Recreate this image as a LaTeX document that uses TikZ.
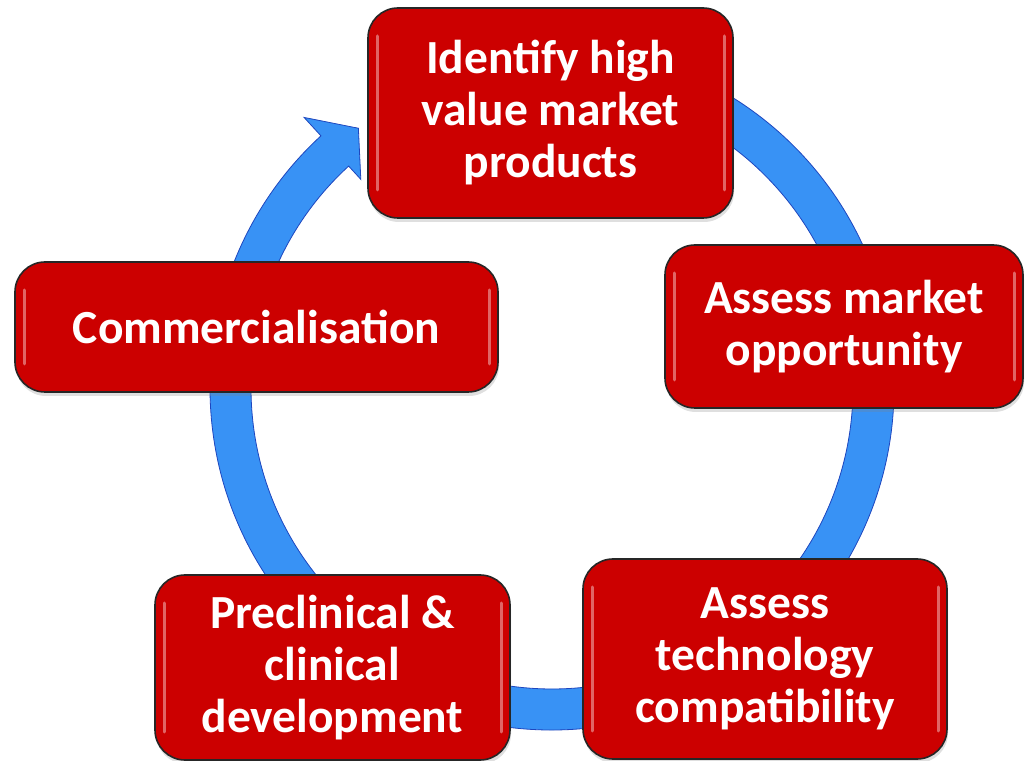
\documentclass[tikz,border=0pt]{standalone}
\usepackage{fontspec}
\setmainfont{Carlito}
\usetikzlibrary{shadows}
\definecolor{boxred}{RGB}{204,0,0}
\definecolor{ringblue}{RGB}{56,146,245}
\definecolor{ringedge}{RGB}{30,70,190}

\begin{document}
\begin{tikzpicture}[x=1pt, y=1pt,
	stage/.style={draw=black!85, line width=1.6pt, fill=boxred, rounded corners=30pt,
		text=white, font=\fontsize{47.5}{52}\selectfont\bfseries, align=center, inner sep=0pt,
		drop shadow={opacity=0.25, shadow xshift=1pt, shadow yshift=-4pt},
		path picture={\draw[white, opacity=0.4, line width=3pt, line cap=round]
			([xshift=9pt,yshift=-28pt]path picture bounding box.north west) -- ([xshift=9pt,yshift=28pt]path picture bounding box.south west)
			([xshift=-9pt,yshift=-28pt]path picture bounding box.north east) -- ([xshift=-9pt,yshift=28pt]path picture bounding box.south east);}},
	ring/.style={fill=ringblue, draw=ringedge, line width=0.8pt}]
	\useasboundingbox (0,0) rectangle (1029,761);
	\coordinate (hub) at (552,373);
	% the cycle arrow, its tail hidden under the first box
	\filldraw[ring, shift={(hub)}] (95:342) arc[start angle=95, end angle=-227.5, radius=342]
		-- (132.5:367) -- (126.7:324) -- (132.5:283) -- (132.5:301)
		arc[start angle=-227.5, end angle=95, radius=301] -- cycle;
	\node[stage, minimum width=365pt, minimum height=210pt] (s_0) at (550.5,648) {Identify high\\value market\\products};
	\node[stage, minimum width=358pt, minimum height=163pt] (s_1) at (844,434.5) {Assess market\\opportunity};
	\node[stage, minimum width=364pt, minimum height=200pt] (s_2) at (765,102) {Assess\\technology\\compatibility};
	\node[stage, minimum width=355pt, minimum height=185pt] (s_3) at (332.5,93.5) {Preclinical \&\\clinical\\development};
	\node[stage, minimum width=483pt, minimum height=130pt] (s_4) at (256.5,434) {Commercialisation};
\end{tikzpicture}
\end{document}
